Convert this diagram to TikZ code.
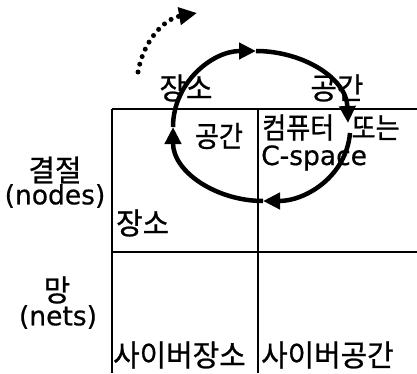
\documentclass[tikz,border=0pt]{standalone}
\usepackage{fontspec}
\setmainfont[FakeBold=0.6]{DejaVu Sans}
\newfontfamily\krA[FakeStretch=0.96, FakeBold=0.8]{Noto Sans CJK KR}
\newfontfamily\krB[FakeStretch=0.9, FakeBold=0.8]{Noto Sans CJK KR}
\usetikzlibrary{arrows.meta}
\tikzset{
  lbl/.style={inner sep=0pt, font=\fontsize{26.5}{28}\selectfont},
  krl/.style={lbl, font=\fontsize{30}{32}\selectfont\krA},
  krs/.style={lbl, font=\fontsize{29}{31}\selectfont\krB},
  gridline/.style={line width=1.8pt},
  loopline/.style={line width=4.5pt, -{Triangle[length=17pt,width=16pt]}},
  dotline/.style={line width=5pt, line cap=round, dash pattern=on 0pt off 8pt, -{Triangle[length=18pt,width=17pt]}}
}
\begin{document}
\begin{tikzpicture}[x=1pt,y=1pt]
\useasboundingbox (0,0) rectangle (417,373);
% table
\coordinate (tl) at (112,264);
\coordinate (tm) at (258,264);
\coordinate (tr) at (417,264);
\coordinate (ml) at (112,121);
\coordinate (mr) at (417,121);
\coordinate (bl) at (112,0);
\coordinate (bm) at (258,0);
\draw[gridline] (tl) -- (tr);
\draw[gridline] (ml) -- (mr);
\draw[gridline] (tl) -- (bl);
\draw[gridline] (tm) -- (bm);
% labels
\node[krl] (toppl) at (186,285) {장소};
\node[krl] (topsp) at (337,285) {공간};
\node[krs] (insp) at (219,237) {공간};
\node[krs, anchor=west] (comp) at (262,245.5) {컴퓨터\hspace{0.6em}또는};
\node[lbl, anchor=base west] (cspace) at (261,208) {C-space};
\node[krl] (kyul) at (55,203) {결절};
\node[lbl] (nodes) at (55,177) {(nodes)};
\node[krl, anchor=west] (place) at (116,150) {장소};
\node[krl] (mang) at (57,83) {망};
\node[lbl] (nets) at (58,56) {(nets)};
\node[krl, anchor=west] (cyp) at (113,18) {사이버장소};
\node[krl, anchor=west] (cys) at (261,18) {사이버공간};
% loop
\coordinate (S) at (350,240);
\coordinate (A1) at (263,172);
\coordinate (A2) at (173,246);
\coordinate (A3) at (256,322);
\coordinate (E) at (348,250);
\draw[loopline] (S) to[out=-95,in=0] (A1);
\draw[loopline] (A1) to[out=180,in=-90] (A2);
\draw[loopline] (A2) to[out=90,in=180] (A3);
\draw[loopline] (A3) to[out=0,in=92] (E);
% dotted arrow
\coordinate (d1) at (138,301);
\coordinate (d2) at (197,360);
\draw[dotline] (d1) to[out=80,in=190] (d2);
\end{tikzpicture}
\end{document}
